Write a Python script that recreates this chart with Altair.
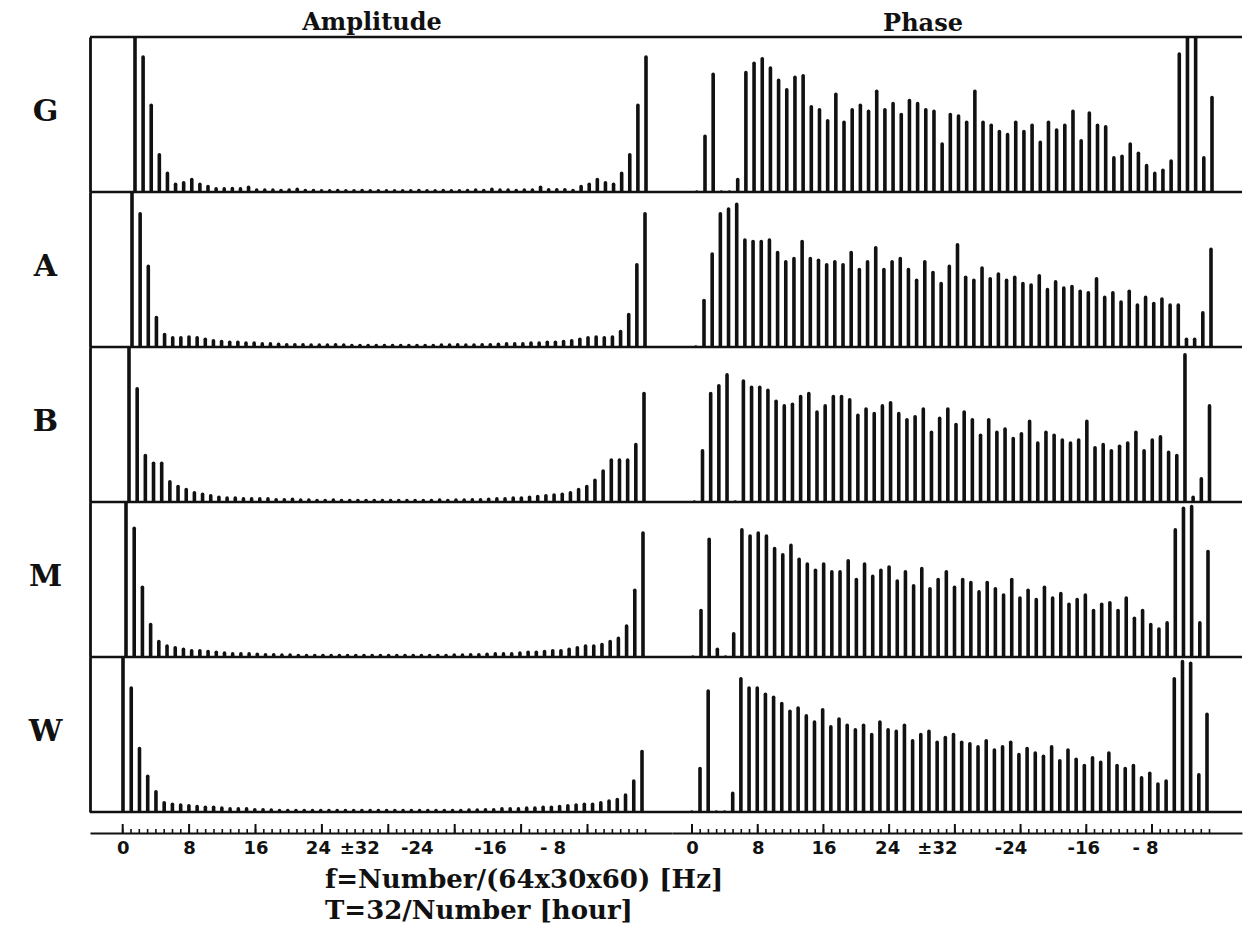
import json
import altair as alt
import pandas as pd

# ---------------- data ----------------
ROWS = ["G", "A", "B", "M", "W"]
BINS = list(range(64))

amp_G = [1.5, 0.87, 0.56, 0.24, 0.12, 0.05, 0.06, 0.08, 0.05, 0.035, 0.02, 0.02, 0.022, 0.02, 0.03, 0.012,
         0.012, 0.012, 0.01, 0.012, 0.018, 0.01, 0.01, 0.008, 0.008, 0.01, 0.008, 0.008, 0.01, 0.008, 0.008, 0.008,
         0.008, 0.008, 0.008, 0.01, 0.008, 0.008, 0.01, 0.008, 0.008, 0.01, 0.012, 0.01, 0.018, 0.012, 0.012, 0.01,
         0.012, 0.012, 0.03, 0.015, 0.015, 0.015, 0.01, 0.035, 0.05, 0.08, 0.06, 0.05, 0.12, 0.24, 0.56, 0.87]
amp_A = [1.5, 0.86, 0.52, 0.19, 0.08, 0.06, 0.06, 0.065, 0.06, 0.05, 0.04, 0.035, 0.03, 0.03, 0.025, 0.025,
         0.02, 0.02, 0.018, 0.015, 0.015, 0.015, 0.012, 0.012, 0.012, 0.015, 0.012, 0.01, 0.01, 0.01, 0.01, 0.01,
         0.01, 0.01, 0.01, 0.01, 0.01, 0.01, 0.012, 0.012, 0.015, 0.012, 0.012, 0.015, 0.015, 0.018, 0.02, 0.02,
         0.02, 0.025, 0.025, 0.03, 0.03, 0.035, 0.04, 0.05, 0.06, 0.065, 0.06, 0.065, 0.1, 0.21, 0.53, 0.86]
amp_B = [1.5, 0.73, 0.30, 0.25, 0.25, 0.13, 0.10, 0.08, 0.06, 0.05, 0.04, 0.03, 0.025, 0.025, 0.02, 0.02,
         0.02, 0.02, 0.015, 0.015, 0.018, 0.012, 0.012, 0.01, 0.01, 0.012, 0.01, 0.01, 0.01, 0.01, 0.01, 0.01,
         0.01, 0.01, 0.01, 0.01, 0.01, 0.01, 0.012, 0.01, 0.012, 0.012, 0.015, 0.015, 0.018, 0.02, 0.02, 0.025,
         0.025, 0.03, 0.035, 0.04, 0.045, 0.05, 0.06, 0.08, 0.10, 0.14, 0.20, 0.27, 0.27, 0.27, 0.37, 0.70]
amp_M = [1.5, 0.83, 0.45, 0.21, 0.10, 0.07, 0.06, 0.05, 0.04, 0.04, 0.035, 0.03, 0.025, 0.02, 0.02, 0.02,
         0.018, 0.015, 0.015, 0.012, 0.012, 0.01, 0.01, 0.01, 0.01, 0.01, 0.01, 0.01, 0.01, 0.01, 0.01, 0.01,
         0.01, 0.01, 0.01, 0.01, 0.01, 0.01, 0.01, 0.01, 0.012, 0.012, 0.015, 0.015, 0.018, 0.02, 0.02, 0.02,
         0.025, 0.03, 0.03, 0.035, 0.04, 0.04, 0.05, 0.06, 0.07, 0.07, 0.08, 0.10, 0.12, 0.20, 0.43, 0.80]
amp_W = [1.5, 0.80, 0.41, 0.23, 0.13, 0.06, 0.05, 0.045, 0.04, 0.035, 0.03, 0.03, 0.025, 0.02, 0.02, 0.02,
         0.015, 0.015, 0.012, 0.01, 0.01, 0.01, 0.01, 0.01, 0.01, 0.01, 0.01, 0.01, 0.01, 0.01, 0.01, 0.01,
         0.01, 0.01, 0.01, 0.01, 0.01, 0.01, 0.01, 0.01, 0.01, 0.01, 0.012, 0.012, 0.015, 0.015, 0.02, 0.02,
         0.02, 0.025, 0.025, 0.03, 0.03, 0.035, 0.04, 0.045, 0.05, 0.05, 0.06, 0.07, 0.08, 0.11, 0.20, 0.39]

phase_G = [0, 0.36, 0.76, 0, 0, 0.08, 0.77, 0.83, 0.86, 0.80, 0.72, 0.66, 0.74, 0.75, 0.55, 0.53,
           0.46, 0.63, 0.45, 0.53, 0.56, 0.52, 0.65, 0.53, 0.57, 0.50, 0.59, 0.57, 0.53, 0.52, 0.31, 0.50,
           0.49, 0.45, 0.65, 0.45, 0.43, 0.39, 0.37, 0.45, 0.39, 0.43, 0.32, 0.45, 0.40, 0.43, 0.52, 0.33,
           0.51, 0.43, 0.42, 0.22, 0.23, 0.31, 0.25, 0.17, 0.12, 0.14, 0.20, 0.89, 1.0, 1.0, 0.22, 0.61]
phase_A = [0, 0.30, 0.60, 0.86, 0.89, 0.92, 0.69, 0.68, 0.68, 0.69, 0.61, 0.55, 0.57, 0.68, 0.57, 0.56,
           0.53, 0.55, 0.53, 0.61, 0.50, 0.55, 0.64, 0.50, 0.55, 0.57, 0.50, 0.43, 0.55, 0.48, 0.41, 0.52,
           0.66, 0.45, 0.43, 0.51, 0.44, 0.47, 0.43, 0.45, 0.41, 0.40, 0.46, 0.37, 0.42, 0.38, 0.39, 0.36,
           0.35, 0.44, 0.32, 0.35, 0.29, 0.36, 0.27, 0.32, 0.28, 0.31, 0.27, 0.27, 0.05, 0.05, 0.22, 0.63]
phase_B = [0, 0.33, 0.70, 0.75, 0.82, 0, 0.78, 0.74, 0.74, 0.72, 0.65, 0.62, 0.63, 0.68, 0.70, 0.58,
           0.62, 0.68, 0.68, 0.66, 0.56, 0.60, 0.57, 0.62, 0.64, 0.57, 0.53, 0.55, 0.60, 0.45, 0.54, 0.60,
           0.50, 0.58, 0.53, 0.43, 0.53, 0.45, 0.47, 0.41, 0.44, 0.52, 0.38, 0.45, 0.43, 0.40, 0.38, 0.40,
           0.52, 0.35, 0.37, 0.33, 0.36, 0.38, 0.45, 0.33, 0.40, 0.42, 0.32, 0.30, 0.95, 0.03, 0.15, 0.62]
phase_M = [0, 0.30, 0.76, 0.05, 0, 0.15, 0.82, 0.78, 0.80, 0.78, 0.70, 0.66, 0.72, 0.63, 0.60, 0.56,
           0.60, 0.55, 0.55, 0.62, 0.50, 0.60, 0.52, 0.56, 0.58, 0.49, 0.55, 0.46, 0.57, 0.44, 0.50, 0.55,
           0.45, 0.50, 0.48, 0.42, 0.48, 0.44, 0.40, 0.50, 0.38, 0.43, 0.37, 0.45, 0.38, 0.41, 0.34, 0.37,
           0.40, 0.30, 0.34, 0.35, 0.30, 0.38, 0.25, 0.30, 0.21, 0.18, 0.22, 0.82, 0.96, 0.97, 0.22, 0.68]
phase_W = [0, 0.28, 0.78, 0, 0, 0.12, 0.86, 0.80, 0.80, 0.76, 0.74, 0.70, 0.65, 0.67, 0.62, 0.58,
           0.66, 0.55, 0.60, 0.56, 0.53, 0.56, 0.50, 0.58, 0.53, 0.52, 0.56, 0.46, 0.50, 0.52, 0.45, 0.48,
           0.50, 0.45, 0.44, 0.42, 0.46, 0.40, 0.42, 0.45, 0.37, 0.41, 0.38, 0.36, 0.42, 0.33, 0.40, 0.34,
           0.30, 0.35, 0.32, 0.38, 0.30, 0.28, 0.30, 0.22, 0.25, 0.18, 0.20, 0.86, 0.97, 0.96, 0.24, 0.63]

col_titles = ["Amplitude", "Phase"]
ruler_ticks = list(range(64))
ruler_major = [0, 8, 16, 24, 32, 40, 48, 56]
ruler_labels = ["0", "8", "16", "24", "\u00b132", "-24", "-16", "- 8"]
xlabel_lines = ["f=Number/(64x30x60) [Hz]", "T=32/Number [hour]"]

AMPS = [amp_G, amp_A, amp_B, amp_M, amp_W]
PHASES = [phase_G, phase_A, phase_B, phase_M, phase_W]

# ---------------- layout / style ----------------
SERIF = "DejaVu Serif"
SANS = "DejaVu Sans"
INK = "#111111"

LEFT_PX = 90        # page x of left frame
TOP_PX = 37         # page y of top frame
AMP_W = 582
PH_W = 570
ROW_H = 155
RULER_H = 21
SVG_W = 1240
SVG_H = 922

# per-row pixel calibration of the bar positions (the scan is slightly skewed)
amp_px_bin0 = [135, 132, 129, 126, 123]
amp_px_bin63 = [646, 645, 644, 643, 642]
ph_px_bin1 = [705, 704, 702.5, 701, 700]
ph_px_bin63 = [1212, 1211, 1209.5, 1208, 1207]
# horizontal nudges of the ruler labels, as printed in the original
label_nudge_amp = [0, 0, 0, -4, -29, -38, -31, -35]
label_nudge_phase = [0, 0, 0, -2, -18, -10, -3, -7]


def lin_domain(px_a, v_a, px_b, v_b, left, width):
    s = (px_b - px_a) / (v_b - v_a)
    d0 = v_a - (px_a - left) / s
    return [d0, d0 + width / s]


one = pd.DataFrame({"k": [0]})


def hline(width, y):
    return alt.Chart(one).mark_rule(color=INK, strokeWidth=2.6).encode(
        x=alt.value(0), x2=alt.value(width), y=alt.value(y))


def bar_panel(r, kind):
    if kind == "amp":
        values = AMPS[r]
        width = AMP_W
        dom = lin_domain(amp_px_bin0[r], 0, amp_px_bin63[r], 63, LEFT_PX, AMP_W)
        yaxis = alt.Axis(domain=True, domainColor=INK, domainWidth=2.8, ticks=False, labels=False,
                         grid=False, title=ROWS[r], titleAngle=0, titleX=-45, titleY=ROW_H / 2 - 3,
                         titleAlign="center", titleBaseline="middle", titleFont=SERIF,
                         titleFontSize=30, titleFontWeight="bold", titleColor=INK)
    else:
        values = PHASES[r]
        width = PH_W
        dom = lin_domain(ph_px_bin1[r], 1, ph_px_bin63[r], 63, LEFT_PX + AMP_W, PH_W)
        yaxis = None
    df = pd.DataFrame({"bin": BINS, "value": values})
    bars = alt.Chart(df).mark_rule(color=INK, strokeWidth=3.6, strokeCap="round", clip=True).encode(
        x=alt.X("bin:Q", scale=alt.Scale(domain=dom, nice=False, zero=False), axis=None),
        y=alt.Y("value:Q", scale=alt.Scale(domain=[0, 1], nice=False, zero=False), axis=yaxis),
        y2=alt.datum(0),
    )
    layers = [bars, hline(width, ROW_H)]
    if r == 0:
        layers.append(hline(width, 0))
        if kind == "amp":
            tx, ty, txt = 372 - LEFT_PX, -7, col_titles[0]
        else:
            tx, ty, txt = 923 - LEFT_PX - AMP_W, -6, col_titles[1]
        layers.append(
            alt.Chart(pd.DataFrame({"t": [txt]})).mark_text(
                font=SERIF, fontSize=24, fontWeight="bold", align="center", baseline="alphabetic",
                color=INK
            ).encode(x=alt.value(tx), y=alt.value(ty), text="t:N")
        )
    return alt.layer(*layers).properties(width=width, height=ROW_H)


label_expr = "{}[indexof({}, datum.value)]".format(
    json.dumps(ruler_labels, ensure_ascii=False), json.dumps(ruler_major))


def ruler_panel(kind):
    if kind == "amp":
        width = AMP_W
        dom = lin_domain(122.7, 0, 587.5, 56, LEFT_PX, AMP_W)
        nudge = label_nudge_amp
    else:
        width = PH_W
        dom = lin_domain(692, 0, 1152, 56, LEFT_PX + AMP_W, PH_W)
        nudge = label_nudge_phase
    sc = alt.Scale(domain=dom, nice=False, zero=False)
    offset_expr = "{}[indexof({}, datum.value)]".format(json.dumps(nudge), json.dumps(ruler_major))

    def ruler_axis():
        return alt.Axis(orient="bottom", domain=True, domainColor=INK, domainWidth=2.2, ticks=False,
                        grid=False, values=ruler_major, labelExpr=label_expr, labelFont=SANS,
                        labelFontWeight="bold", labelFontSize=18, labelColor=INK, labelPadding=6,
                        labelOffset=alt.expr(offset_expr),
                        labelFlush=False, labelOverlap=False, title=None)

    minor = alt.Chart(pd.DataFrame({"t": ruler_ticks})).mark_rule(color=INK, strokeWidth=1.6).encode(
        x=alt.X("t:Q", scale=sc, axis=ruler_axis()), y=alt.value(RULER_H - 4), y2=alt.value(RULER_H))
    major = alt.Chart(pd.DataFrame({"t": ruler_major})).mark_rule(color=INK, strokeWidth=2).encode(
        x=alt.X("t:Q", scale=sc, axis=ruler_axis()), y=alt.value(RULER_H - 9), y2=alt.value(RULER_H))
    layers = [minor, major]
    if kind == "amp":
        layers.append(
            alt.Chart(pd.DataFrame({"t": ["\n".join(xlabel_lines)]})).mark_text(
                font=SERIF, fontSize=26, fontWeight="bold", align="left", baseline="alphabetic",
                lineBreak="\n", lineHeight=31, color=INK
            ).encode(x=alt.value(325 - LEFT_PX), y=alt.value(888 - 812), text="t:N")
        )
    return alt.layer(*layers).properties(width=width, height=RULER_H)


panels = []
for r in range(5):
    panels.append(bar_panel(r, "amp"))
    panels.append(bar_panel(r, "phase"))
panels.append(ruler_panel("amp"))
panels.append(ruler_panel("phase"))

chart = alt.ConcatChart(concat=panels, columns=2, spacing=0, bounds="flush").properties(
    autosize=alt.AutoSizeParams(type="none"),
    padding={"left": LEFT_PX - 8, "top": TOP_PX - 8,
             "right": SVG_W - (LEFT_PX - 8), "bottom": SVG_H - (TOP_PX - 8)},
    background="white",
).configure_view(stroke=None)

chart.save("out.html", embed_options={"renderer": "svg", "actions": False})
